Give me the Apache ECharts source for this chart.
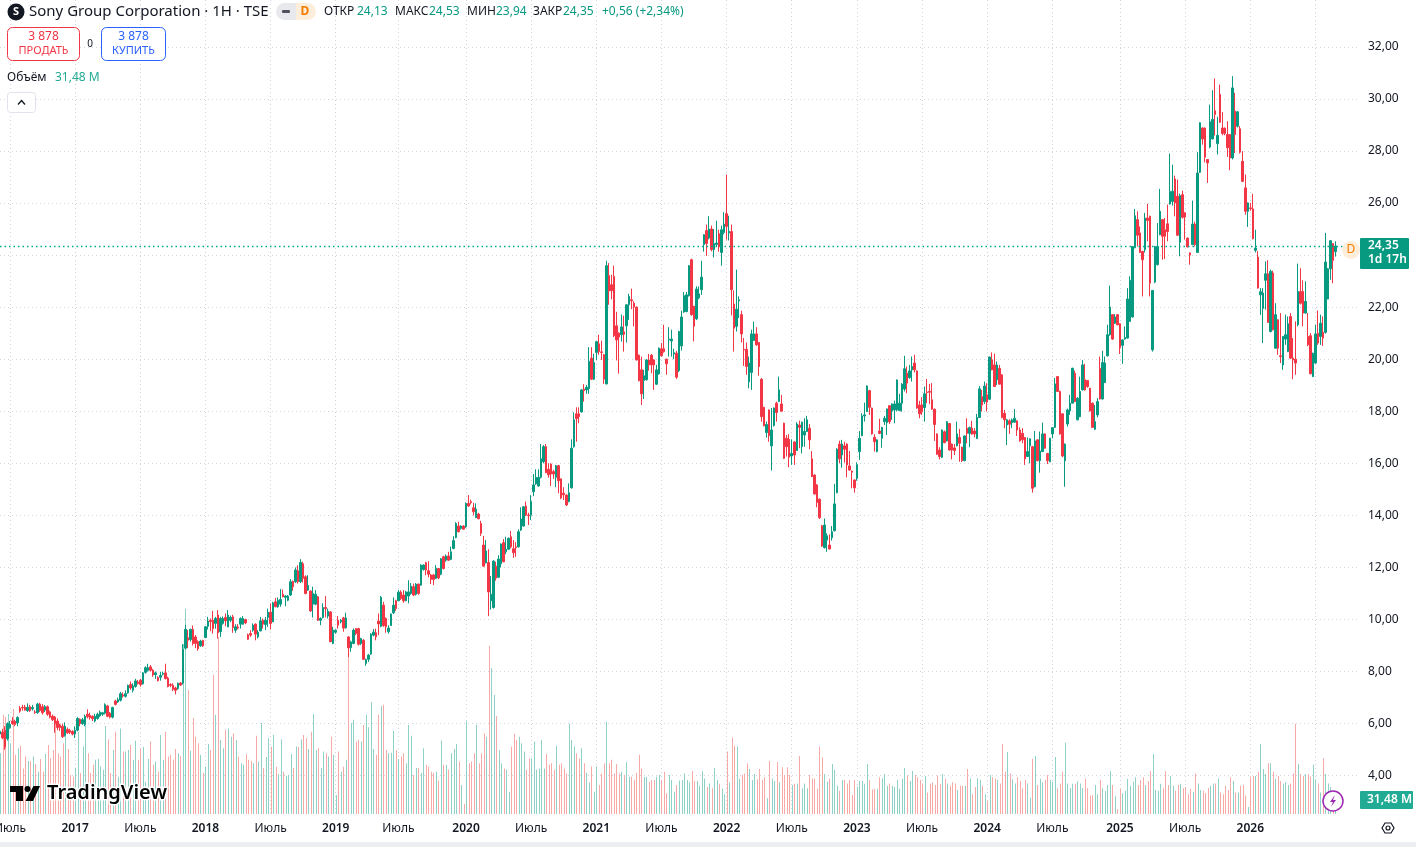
<!DOCTYPE html>
<html><head><meta charset="utf-8">
<style>html,body{margin:0;padding:0;background:#fff;overflow:hidden}#c{width:1416px;height:847px}</style>
<script src="https://cdn.jsdelivr.net/npm/echarts@6/dist/echarts.min.js"></script>
</head><body><div id="c"></div>
<script>
// Weekly bars as [open, close, high, low]
const bars2016=[[5.6,5.71,5.85,5.55],[5.67,5.45,5.8,5.4],[5.74,5.1,5.9,5.0],[5.42,6.0,6.05,5.35],[5.85,5.97,6.1,5.8],[6.1,6.0,6.25,5.95],[6.09,5.97,6.15,5.9],[6.03,6.24,6.28,5.9],[6.6,6.48,6.68,6.42],[6.62,6.6,6.72,6.5],[6.63,6.52,6.72,6.5],[6.5,6.63,6.78,6.45],[6.65,6.5,6.72,6.45],[6.57,6.62,6.72,6.5],[6.45,6.42,6.52,6.38],[6.42,6.75,6.8,6.38],[6.75,6.5,6.8,6.45],[6.65,6.42,6.75,6.35],[6.52,6.65,6.72,6.45],[6.65,6.36,6.7,6.3],[6.45,6.25,6.5,6.2],[6.28,6.15,6.35,6.1],[6.25,6.0,6.3,5.65],[6.1,5.85,6.2,5.75],[5.95,5.85,6.0,5.72],[5.9,5.5,6.0,5.45],[5.55,5.9,6.05,5.5],[5.77,5.65,5.85,5.6],[5.74,5.67,5.8,5.6],[5.7,5.6,5.75,5.55]];
const bars2017=[[5.6,5.75,5.9,5.45],[5.75,6.2,6.25,5.7],[6.17,6.0,6.2,5.9],[6.0,6.15,6.22,5.95],[5.97,6.28,6.35,5.9],[6.36,6.26,6.55,6.2],[6.32,6.23,6.42,6.15],[6.28,6.19,6.32,6.1],[6.1,6.28,6.38,6.05],[6.2,6.36,6.42,6.15],[6.3,6.44,6.5,6.25],[6.36,6.42,6.45,6.3],[6.4,6.73,6.78,6.35],[6.68,6.28,6.72,6.25],[6.4,6.25,6.45,6.2],[6.25,6.62,6.65,6.2],[6.87,6.74,6.92,6.7],[6.83,6.92,7.0,6.8],[6.9,7.15,7.22,6.85],[7.1,7.06,7.2,7.0],[7.05,7.15,7.28,7.0],[7.18,7.47,7.5,7.15],[7.5,7.37,7.62,7.3],[7.28,7.45,7.55,7.2],[7.43,7.64,7.72,7.38],[7.6,7.54,7.68,7.5],[7.67,7.5,7.72,7.42],[7.53,7.95,7.98,7.5],[7.97,8.15,8.2,7.92],[8.05,8.15,8.3,8.0],[8.18,8.05,8.25,8.0],[8.05,7.87,8.1,7.8],[7.88,7.95,8.0,7.72],[7.77,7.65,7.82,7.62],[7.78,7.85,7.98,7.65],[7.9,7.93,8.0,7.85],[7.95,7.73,8.3,7.7],[7.75,7.42,7.8,7.4],[7.5,7.47,7.55,7.4],[7.47,7.32,7.55,7.25],[7.37,7.28,7.42,7.12],[7.35,7.55,7.58,7.3],[7.56,7.48,7.6,7.45],[7.56,8.85,9.05,7.5],[8.9,9.62,9.8,8.85],[9.3,9.2,9.6,8.9],[9.23,9.62,9.65,9.15],[9.62,9.08,9.77,9.0],[9.33,9.08,9.4,8.9],[9.15,8.88,9.2,8.8],[8.99,9.17,9.22,8.95],[9.2,8.99,9.22,8.95]];
const bars2018=[[9.31,9.72,9.75,9.28],[9.74,9.94,10.1,9.62],[9.97,9.92,10.04,9.55],[9.97,9.65,10.33,9.46],[9.85,10.04,10.1,9.65],[10.17,9.49,10.36,9.27],[9.53,10.04,10.1,9.33],[9.85,10.04,10.12,9.8],[10.08,9.95,10.23,9.74],[9.72,10.17,10.36,9.7],[9.97,10.08,10.15,9.9],[10.1,9.69,10.18,9.49],[9.59,9.72,9.82,9.49],[9.71,9.67,9.82,9.62],[9.82,10.04,10.08,9.65],[9.82,10.04,10.13,9.8],[10,9.87,10.03,9.82],[9.41,9.24,9.46,9.22],[9.46,9.4,9.59,9.33],[9.59,9.78,9.85,9.53],[9.82,9.44,9.85,9.2],[9.33,9.51,9.59,9.27],[9.56,9.95,10.1,9.55],[9.97,9.82,10.04,9.65],[9.81,9.97,10.1,9.59],[10.08,10.28,10.42,9.72],[10.28,9.85,10.62,9.62],[9.91,10.64,10.68,9.9],[10.68,10.49,10.83,10.47],[10.49,10.74,10.85,10.45],[10.59,10.77,11.17,10.49],[10.97,10.87,11.15,10.85],[10.85,10.9,10.94,10.51],[10.74,10.9,10.94,10.7],[10.94,11.45,11.55,10.9],[11.46,11.26,11.5,11.1],[11.45,11.9,12,11.4],[11.87,11.45,12.08,11.38],[11.46,12.19,12.32,11.4],[12.14,11.58,12.22,11.42],[11.64,11,11.7,10.97],[11.13,11.31,11.7,11.1],[11.09,10.33,11.12,10.29],[10.59,11,11.26,10.08],[10.59,10.97,11.13,10.55],[10.87,9.97,10.9,9.95],[9.97,10.04,10.08,9.78],[10.08,10.46,10.62,10.04],[10.46,10.42,10.9,10.08],[10.13,10.32,10.42,10.04],[10.29,9.15,10.32,9.13],[9.08,9.59,9.72,9.05]];
const bars2019=[[9.51,9.59,9.62,9.45],[9.97,9.78,10.13,9.65],[9.91,9.97,10.02,9.85],[10.06,9.67,10.1,9.53],[9.68,10.06,10.26,9.65],[9.33,8.91,9.36,8.56],[8.92,9.14,9.18,8.76],[9.08,9.59,9.65,9.05],[9.65,9.46,9.67,9.4],[9.65,9.05,9.68,9.0],[9.08,9.27,9.3,9.02],[9.2,8.47,9.25,8.45],[8.31,8.46,8.5,8.22],[8.47,8.63,8.68,8.37],[8.67,9.44,9.47,8.65],[9.4,9.51,9.63,9.35],[9.49,9.33,9.65,9.2],[9.94,9.83,10.23,9.4],[9.74,10.85,10.9,9.7],[10.55,9.76,10.68,9.72],[10.04,9.72,10.08,9.49],[9.53,9.67,9.78,9.46],[9.77,10.21,10.23,9.75],[10.26,10.55,10.85,10.21],[10.72,10.42,10.76,10.33],[10.72,11.05,11.13,10.7],[11.05,10.81,11.12,10.75],[10.94,10.72,11.13,10.64],[10.72,11.06,11.1,10.7],[10.9,11.06,11.51,10.62],[11,11.28,11.4,10.95],[11.26,10.94,11.38,10.9],[10.97,11.36,11.4,10.92],[11.36,11,11.38,10.95],[11.32,12.09,12.12,11.3],[11.92,12.09,12.12,11.88],[12.18,11.9,12.22,11.7],[11.87,11.74,12.24,11.62],[11.71,11.54,11.75,11.36],[11.71,11.54,11.75,11.32],[11.58,11.96,12.09,11.55],[11.96,11.6,11.98,11.55],[11.74,12.33,12.36,11.7],[12.41,11.96,12.45,11.92],[12.28,12.44,12.5,12.22],[12.44,12.28,12.6,12.25],[12.31,12.6,12.8,12.28],[12.73,13.03,13.2,12.7],[13.15,13.69,13.74,13.12],[13.59,13.37,13.76,13.35],[13.5,13.59,13.62,13.45],[13.59,13.47,13.62,13.45]];
const bars2020=[[13.56,14.46,14.5,13.52],[14.46,14.36,14.78,14.33],[14.53,14.49,14.6,14.42],[14.29,14.14,14.48,14.0],[13.91,14.24,14.46,13.9],[14.05,13.87,14.1,13.85],[13.69,13.31,13.79,13.21],[12.86,12.05,13.21,12.03],[12.18,12.63,13.05,12.15],[12.19,11.06,12.7,10.13],[10.72,10.97,11.67,10.38],[10.46,12.24,12.28,10.42],[12.05,11.59,12.22,11.49],[11.62,12.32,12.47,11.6],[12.14,12.9,12.92,12],[12.95,12.22,13.09,12.2],[12.6,12.7,13.18,12.51],[12.7,13.12,13.15,12.68],[13.18,12.79,13.4,12.73],[12.72,12.56,13.05,12.37],[12.79,12.76,12.97,12.41],[12.79,13.37,13.46,12.77],[13.44,13.86,14.31,13.4],[13.59,14.33,14.36,13.57],[14.36,14.01,14.53,13.97],[14.01,13.99,14.1,13.63],[14.01,14.53,14.78,13.82],[14.91,15.17,15.59,14.74],[15.21,15.46,15.77,15.17],[15.13,15.46,15.77,15.1],[15.46,16.17,16.74,15.42],[16.06,16.64,16.7,16],[16.64,15.64,16.74,15.62],[15.77,15.56,16,15.45],[15.97,15.59,16,15.13],[15.68,15.59,15.75,15.4],[15.46,15.91,15.94,15.08],[15.91,15.33,15.94,14.85],[15.4,14.67,15.42,14.62],[14.85,14.79,15.08,14.59],[14.78,14.4,14.8,14.36],[14.53,14.87,15.23,14.5],[15.06,16.58,16.92,15.03],[16.64,17.67,17.96,16.6],[17.9,17.72,18.15,16.83],[17.9,17.79,18.15,17.54],[17.97,18.82,18.85,17.95],[18.85,18.79,19.04,18.37],[18.82,18.92,19.01,18.67],[18.87,19.91,20.46,18.67],[20.04,19.23,20.46,19.2],[19.23,19.87,20.21,19.2]];
const bars2021=[[20.26,20.67,20.7,19.97],[20.59,20.29,20.94,20.17],[20.28,20.26,20.71,19.97],[20.17,19.23,20.2,19.05],[19.05,23.59,23.78,19.03],[23.21,22.62,23.69,22.09],[22.86,22.63,23.24,22.3],[23.18,20.9,23.59,20.85],[21.28,20.74,21.82,19.95],[21,20.85,21.03,19.44],[20.94,21.24,21.71,20.68],[21.05,20.96,21.67,20.29],[21.28,22.09,22.1,20.64],[22.09,22.41,22.51,21.51],[22.28,22.24,22.71,21.92],[22.15,22,22.22,21.26],[22,19.97,22.02,19.95],[20.15,19.17,20.18,19.15],[19.59,18.67,20.1,18.24],[19.18,19.36,19.59,18.47],[19.21,19.97,20,19.18],[19.97,19.78,20.2,19.56],[20.15,19.78,20.2,19.46],[19.97,19.78,20,18.82],[19.04,19.59,19.78,19.01],[19.44,20.42,20.45,19.4],[20.4,20.13,20.62,20.1],[20.4,20.29,21.32,20.25],[20,19.82,20.02,19.4],[20.74,20.77,21.23,20.1],[20.7,20.77,21.13,20.1],[20.2,20.25,20.4,20.0],[20.23,19.31,20.32,19.24],[19.56,21.06,21.09,19.5],[20.51,21.62,21.86,20.33],[21.81,22.44,22.58,21.78],[21.83,22.47,22.58,21.8],[22.44,23.59,23.62,22.4],[23.82,21.71,23.86,21.67],[22.03,21.26,22.05,20.68],[21.55,22.69,22.8,21.5],[22.36,22.51,22.79,22.3],[22.67,23.15,23.78,22.47],[24.4,24.78,24.8,24.13],[24.94,24.44,25.17,23.97],[24.65,25,25.49,24.6],[25,24.21,25.13,24.14],[24.21,24.44,25,23.91],[24.4,24.46,25.32,24.35],[24.82,24.31,24.97,24.13],[24.1,24.97,25.13,23.59],[24.87,25.19,25.65,24.8]];
const bars2022=[[25.59,25.1,27.09,24.59],[24.85,24.91,25.51,24.56],[24.9,22.67,25.17,21.68],[22.12,21.19,22.64,20.29],[21.26,21.92,23.44,21.06],[22.24,22.28,22.41,21.58],[21.71,20.97,21.86,20.64],[20.38,20.36,20.81,19.74],[20.38,19.72,20.64,19.4],[19.13,19.85,20.1,18.88],[19.49,20.97,21.13,18.82],[20.72,20.97,21.44,20.7],[20.97,20.55,21.23,20.51],[20.64,19.72,20.66,19.36],[19.23,17.79,19.27,17.6],[18.15,17.44,18.17,17.42],[17.18,17.49,17.6,16.99],[18.05,17.06,18.07,16.83],[16.67,17.28,18.12,15.72],[17.45,18.12,18.15,17.41],[18.31,17.95,18.37,17.6],[18.37,18.82,19.33,18.35],[18.28,18,18.63,18],[17.54,16.19,17.56,16.17],[16.96,16.64,17.09,16.26],[16.92,16.23,17.12,15.85],[16.28,16.38,16.92,15.94],[16.82,16.32,16.85,15.94],[16.49,17.51,17.58,16.47],[17.47,17.38,17.64,16.58],[16.64,17.58,17.6,16.38],[17.09,17.22,17.73,16.64],[17.22,17.67,17.82,17.2],[17.35,16.9,17.51,16.54],[16.17,15.49,16.47,15.47],[15.55,14.82,15.57,14.8],[15.17,14.49,15.2,14.31],[14.62,13.91,14.65,13.86],[13.6,12.82,13.63,12.79],[12.76,13.63,13.88,12.73],[13.05,13.22,13.31,12.6],[12.86,12.71,13.27,12.69],[13.14,13.37,13.59,13.03],[13.41,14.44,15.21,13.38],[14.87,16.54,16.58,14.85],[16.74,16.17,16.87,16],[16.32,16.74,16.9,15.83],[16.67,16.54,16.83,16.03],[16.74,15.94,16.77,15.46],[15.9,15.74,16.47,15.72],[15.7,15.66,15.72,15.04],[15.36,15.06,15.38,14.87]];
const bars2023=[[15.42,15.94,16.04,15.33],[16.45,16.96,17.24,16.13],[17.06,17.82,17.92,17.04],[17.82,17.86,18.33,17.6],[17.99,18.97,18.99,17.97],[18.79,18.15,18.82,17.86],[18.12,17.13,18.14,17.1],[17,16.83,17.12,16.45],[16.45,16.9,16.92,16.42],[17.24,17.15,17.71,17.12],[16.96,17.38,17.4,16.6],[17.6,17.73,17.82,17.47],[17.56,18.09,18.1,17.09],[18.21,17.6,18.24,17.51],[18.01,18.28,18.3,17.67],[18.05,18.28,18.41,17.54],[18.05,19.2,19.22,18],[18.03,18.31,18.67,18],[18.31,19.04,19.08,17.98],[18.85,19.63,20.13,18.76],[19.46,19.08,19.72,18.69],[19.29,19.55,19.78,19.25],[19.59,19.72,20.1,19.14],[19.85,19.59,20.17,19.49],[19.55,18.12,19.57,18.1],[18.24,17.9,18.4,17.73],[18.24,17.99,18.54,17.86],[18.14,18.67,18.95,17.6],[18.74,18.72,19.24,18.31],[18.76,18.73,19.05,18.28],[18.44,18.08,19.08,18.05],[18.08,17.49,18.1,16.86],[17.13,16.35,17.15,16.32],[16.51,16.26,16.62,16.15],[16.23,17.28,17.3,16.2],[17.21,16.79,17.26,16.77],[16.86,17.6,17.62,16.84],[17.53,16.51,17.54,16.49],[16.74,16.51,16.76,16.15],[16.59,16.49,16.74,16.32],[16.67,17.13,17.6,16.65],[16.99,16.77,17.32,16.06],[16.62,16.1,16.64,16.05],[16.1,17.05,17.07,16.08],[17.35,17.15,17.73,16.77],[17.15,17.37,17.41,16.62],[17.35,17.12,17.63,17.1],[17.24,17.13,17.35,17],[16.95,17.76,17.9,16.93],[17.76,18.86,18.97,17.74],[18.56,18.24,18.82,17.99],[18.37,18.97,19.14,18.28]];
const bars2024=[[18.63,18.35,19.08,17.99],[18.46,20.08,20.1,18.44],[19.97,19.59,20.26,19.57],[19.78,18.95,20.21,18.93],[19.21,19.78,19.91,19.01],[19.65,19.04,19.78,19.02],[19.4,17.76,19.42,17.73],[17.92,17.67,18.05,17.35],[17.47,17.67,17.7,16.7],[17.63,17.5,17.69,17.13],[17.56,17.67,17.72,17.35],[17.58,17.73,18.08,17.55],[17.63,17.28,17.65,17.05],[17.28,16.86,17.38,16.83],[17.15,16.9,17.35,16.77],[16.99,16.17,17.01,15.94],[16.26,16.45,16.99,16.24],[16.67,16.94,16.96,16],[16.64,15.04,16.66,14.87],[15.1,16.86,17.24,15.08],[16.9,16.1,16.92,16.08],[16.1,16.47,17.22,15.64],[16.45,17.13,17.56,16.43],[17.13,16.58,17.15,16.56],[16.38,16.1,16.4,15.97],[16.06,16.96,16.98,16.04],[17.13,17.37,17.39,16.96],[17.38,19.05,19.28,17.36],[19.33,18.76,19.35,18.74],[18.76,17.13,18.79,17.1],[17.9,16.28,17.92,16.23],[16.1,16.74,16.76,15.1],[17.51,18.05,18.1,17.41],[18.01,18.31,18.63,17.86],[18.31,19.65,19.67,18.3],[19.46,18.37,19.56,18.35],[17.67,18.5,18.54,17.65],[17.79,18.76,19.33,17.77],[18.82,19.78,19.97,18.8],[19.21,18.82,19.82,18.79],[19.18,18.95,19.2,18.9],[18.88,18.01,18.9,17.99],[18.31,17.38,18.33,17.36],[17.31,17.6,18.24,17.28],[17.86,18.37,18.5,17.77],[19.65,18.47,20.1,18.45],[18.47,19.87,20.32,18.45],[19.1,19.85,20.1,19.08],[20.13,20.94,21.32,20.1],[20.94,22,22.82,20.9],[21.71,20.77,21.73,20.74],[21.38,21.62,21.73,21.35],[21.71,21.32,21.73,21.3]];
const bars2025=[[21.36,20.45,21.38,20.2],[20.53,20.74,20.76,19.82],[20.77,20.83,21.26,20.75],[20.81,22.31,22.73,20.79],[21.45,23.03,23.18,21.43],[21.62,24.33,24.35,21.6],[24.28,25.51,25.77,24.26],[25.36,24.76,25.68,24.33],[24.85,24.1,25.1,24.08],[24.14,23.82,24.16,22.41],[24.2,25.42,25.62,24.1],[25.42,25.33,25.97,24.53],[25.49,22.92,25.51,22.41],[20.36,22.64,22.66,20.29],[22.96,24.33,24.35,22.92],[23.63,24.33,25.23,23.6],[24.78,25.68,26.54,24.76],[25.36,24.72,25.38,23.82],[24.97,24.72,25.42,23.85],[25.2,24.9,25.94,24.53],[25.96,26.44,27.9,25.94],[26.06,26.45,27.47,25.9],[26.92,26,27.05,25.49],[26.26,24.76,26.9,24.74],[24.49,26.28,26.36,23.95],[26.32,25.45,26.47,25.4],[25.62,25.46,25.64,24.59],[24.65,24.31,24.67,24.3],[24.08,24,24.1,23.63],[24.4,25.19,26.09,24.38],[25.19,24.4,25.28,24.33],[24.1,27.15,27.95,24.08],[27.18,29.08,29.1,27.15],[28.88,28.46,28.9,28.24],[28.88,27.76,28.9,27.56],[27.67,27.54,27.69,26.77],[28.15,29.12,29.78,28.1],[28.46,29.21,30.33,28.44],[29.54,29.4,30.78,28.59],[28.28,28.6,29.31,27.86],[30.17,29.1,30.55,29.08],[28.88,28.67,29.49,28.6],[28.88,28.67,28.9,28.6],[28.63,28.12,29.14,27.77],[28.63,27.73,28.65,27.26],[27.73,30.42,30.87,27.67],[29.53,28.63,30.23,27.92],[28.95,29.5,29.52,28.9],[28.85,27.95,28.95,27.9],[27.6,26.83,27.99,26.8],[26.58,25.68,27.09,25.55],[25.68,26,26.02,25.08]];
const bars2026=[[25.81,25.78,26,25.7],[25.77,24.63,26.35,24.6],[24.18,24.27,24.97,24.1],[23.92,22.73,24.15,22.71],[22.47,22.59,22.73,21.7],[21.95,22.54,22.73,20.62],[23.03,23.28,23.76,21.9],[23.28,21.41,23.8,21.39],[21.06,23.37,23.44,21.03],[23.31,21.13,23.4,21.1],[20.42,21.71,22.15,20.4],[21.51,20.42,21.53,20.17],[20.13,20.1,21.77,19.85],[19.78,20.87,20.89,19.59],[20.77,20.94,21.71,20.55],[20.29,21.36,21.64,20.27],[21.64,20.04,21.77,20],[20.04,19.97,20.81,19.23],[20,19.85,21.45,19.4],[21.32,22.6,23.67,21.26],[22.6,22.15,23.49,22.1],[22.6,21.77,23.03,21.26],[21.77,22.22,22.99,21.75],[20.87,20.55,21.77,20.5],[20.9,19.44,21,19.42],[19.33,20.23,20.25,19.31],[19.85,20.97,21.32,19.83],[21,20.62,21.87,20.55],[20.87,21.38,21.71,20.55],[21.03,20.81,21.64,20.51],[21.03,23.73,24.85,20.98],[22.31,23.47,23.5,22.3],[23.47,24.55,24.57,23.05],[24.44,23.79,24.46,22.92],[24.13,24.35,24.53,23.94]];
// Weekly volume in millions
const vol2016=[147,240,235,242,171,254,143,159,165,110,139,128,127,139,121,102,133,102,145,167,135,155,235,147,139,171,203,157,94,90];
const vol2017=[112,199,99,163,223,147,99,119,131,133,115,107,213,181,99,155,199,90,207,151,151,155,167,131,177,131,159,162,78,133,175,119,127,102,191,131,199,139,143,131,157,147,140,411,496,300,153,232,187,171,143,99];
const vol2018=[115,169,155,336,240,428,179,159,203,207,187,195,179,139,123,119,145,131,128,123,189,127,220,111,138,183,163,191,114,96,181,102,92,94,145,111,163,162,181,191,183,157,199,242,155,159,111,151,147,139,187,143];
const vol2019=[46,151,102,114,131,405,220,228,175,179,175,215,240,210,271,157,143,240,261,264,155,147,148,201,155,133,139,147,123,215,189,94,111,111,99,159,119,114,102,99,102,81,177,119,119,107,147,157,169,127,70,24];
const vol2020=[224,123,127,147,215,123,147,195,187,407,353,288,237,155,123,110,107,54,163,194,179,187,171,151,107,135,135,175,107,110,179,110,145,119,123,107,165,119,123,110,98,218,179,163,147,135,159,123,100,76,115,54];
const vol2021=[115,70,98,123,223,123,131,98,121,98,102,94,125,90,90,82,100,143,110,90,90,78,82,82,90,94,82,102,50,94,82,54,70,81,82,98,82,77,104,80,80,68,104,86,65,74,62,111,82,73,61,48];
const vol2022=[151,77,185,165,163,85,94,98,123,109,82,97,84,109,82,89,38,128,86,80,126,77,113,94,113,94,70,73,74,140,62,74,62,94,85,85,61,163,137,97,78,85,121,107,68,56,82,82,74,82,46,82];
const vol2023=[65,80,80,73,121,82,60,61,61,89,86,97,68,74,68,65,82,61,85,111,93,80,104,94,89,82,74,92,52,73,77,70,93,73,97,85,74,68,77,74,58,68,68,68,109,85,48,65,86,82,68,48];
const vol2024=[31,94,89,86,82,74,169,102,150,98,84,74,89,80,62,82,74,40,133,140,70,85,77,82,94,82,78,138,62,74,102,172,74,63,73,73,79,74,63,85,62,44,46,70,48,82,62,56,70,104,70,44,12];
const vol2025=[61,50,56,85,68,78,89,70,82,89,70,80,104,145,58,56,73,62,104,70,92,68,56,70,73,62,65,48,61,54,98,74,58,56,51,63,68,74,74,85,52,48,68,58,89,80,52,52,68,70,45,17];
const vol2026=[89,92,92,102,169,109,97,123,123,102,85,92,80,73,77,70,74,98,218,121,97,92,97,97,90,119,84,74,52,135,97,74,65,50,31.48];
// Axis labels and the weeks they sit on
const timeLabels=['Июль','2017','Июль','2018','Июль','2019','Июль','2020','Июль','2021','Июль','2022','Июль','2023','Июль','2024','Июль','2025','Июль','2026','Июль'];
const timeLabelWeeks=[4,30,56,82,108,134,159,186,212,238,264,290,316,342,368,394,420,447,473,499,525];
const lastPrice=24.35;

const allBars=[].concat(bars2016,bars2017,bars2018,bars2019,bars2020,bars2021,bars2022,bars2023,bars2024,bars2025,bars2026);
const allVol=[].concat(vol2016,vol2017,vol2018,vol2019,vol2020,vol2021,vol2022,vol2023,vol2024,vol2025,vol2026);
const SLOTS=543;
const cats=[];for(let i=0;i<SLOTS;i++){const k=timeLabelWeeks.indexOf(i);cats.push(k>=0?timeLabels[k]:'');}
const UP='#089981',DOWN='#f23645';
const FONT='"Noto Sans",Roboto,sans-serif';
const candle=allBars.map(b=>[b[0],b[1],b[3],b[2]]);
const volume=allVol.map((v,i)=>[i,v,allBars[i][1]>=allBars[i][0]?1:0]);
const gridLine={show:true,lineStyle:{color:'#d1d4dc',type:[1,3],width:1}};
const onLabel=(i,name)=>name!=='';
const txt=(x,y,text,fill,size,extra)=>({type:'text',x,y:y+2,z:50,style:Object.assign({text,fill,font:(size||12)+'px '+FONT,textVerticalAlign:'middle'},extra||{})});

const chart=echarts.init(document.getElementById('c'),null,{renderer:'canvas'});
chart.setOption({
 animation:false,backgroundColor:'#fff',
 grid:[{left:0,right:58,top:-5.3,height:781,outerBoundsMode:'none'},{left:0,right:58,top:0,height:814,outerBoundsMode:'none'}],
 xAxis:[
  {type:'category',gridIndex:0,data:cats,boundaryGap:false,show:false},
  {type:'category',gridIndex:1,data:cats,boundaryGap:false,axisLine:{show:false},axisTick:{show:false},
   splitLine:Object.assign({interval:onLabel},gridLine),
   axisLabel:{interval:onLabel,hideOverlap:false,showMinLabel:true,showMaxLabel:false,color:'#131722',fontFamily:FONT,fontSize:12,margin:9,
     formatter:n=>/\d/.test(n)?'{y|'+n+'}':n,rich:{y:{fontWeight:600,fontSize:12,color:'#131722',fontFamily:FONT}}}}
 ],
 yAxis:[
  {type:'value',gridIndex:0,position:'right',min:4,max:34,interval:2,axisLine:{show:false},axisTick:{show:false},
   splitLine:gridLine,
   axisLabel:{margin:10,color:'#131722',fontFamily:FONT,fontSize:12,showMaxLabel:false,formatter:v=>v.toFixed(2).replace('.',',')}},
  {type:'value',gridIndex:1,min:0,max:1968,show:false,splitLine:{show:false}}
 ],
 series:[
  {type:'custom',xAxisIndex:1,yAxisIndex:1,data:volume,z:1,silent:true,encode:{x:0,y:1},clip:false,
   renderItem:(p,api)=>{
     const a=api.coord([api.value(0),0]),b=api.coord([api.value(0),api.value(1)]);
     return {type:'rect',shape:{x:Math.round(a[0]),y:b[1],width:1,height:a[1]-b[1]},
       style:{fill:api.value(2)?'#8ed2c7':'#f7a9a7'}};
   }},
  {type:'candlestick',xAxisIndex:0,yAxisIndex:0,data:candle,barWidth:2,z:3,clip:false,
   itemStyle:{color:UP,color0:DOWN,borderColor:UP,borderColor0:DOWN,borderWidth:1},
   markLine:{silent:true,symbol:'none',label:{show:false},lineStyle:{color:'#00a98e',type:[1.5,3],width:1.4},data:[{yAxis:lastPrice}]}}
 ],
 graphic:[
  {type:'circle',z:50,shape:{cx:16,cy:12,r:8.5},style:{fill:'#131722'}},
  txt(16,10,'S','#fff',11,{textAlign:'center',font:'bold 11px '+FONT}),
  txt(29,10,'Sony Group Corporation · 1H · TSE','#131722',15),
  {type:'rect',z:50,shape:{x:276,y:3,width:20,height:17,r:[8.5,0,0,8.5]},style:{fill:'#e8e9ec'}},
  {type:'rect',z:50,shape:{x:296,y:3,width:20,height:17,r:[0,8.5,8.5,0]},style:{fill:'#fdeedb'}},
  {type:'rect',z:51,shape:{x:282,y:10,width:8,height:3,r:1},style:{fill:'#50535e'}},
  txt(305,10,'D','#f57c00',12,{textAlign:'center',font:'bold 12px '+FONT}),
  txt(324,10,'ОТКР','#131722',12),txt(357,10,'24,13',UP,12),
  txt(395,10,'МАКС','#131722',12),txt(429,10,'24,53',UP,12),
  txt(467,10,'МИН','#131722',12),txt(496,10,'23,94',UP,12),
  txt(533,10,'ЗАКР','#131722',12),txt(563,10,'24,35',UP,12),
  txt(602,10,'+0,56 (+2,34%)',UP,12),
  {type:'rect',z:50,shape:{x:7.5,y:27.5,width:72,height:33,r:5},style:{fill:'#fff',stroke:DOWN,lineWidth:1}},
  txt(43.5,35,'3 878',DOWN,12,{textAlign:'center'}),txt(43.5,49,'ПРОДАТЬ',DOWN,11,{textAlign:'center'}),
  txt(90,42,'0','#131722',10,{textAlign:'center'}),
  {type:'rect',z:50,shape:{x:101.5,y:27.5,width:64,height:33,r:5},style:{fill:'#fff',stroke:'#2962ff',lineWidth:1}},
  txt(133.5,35,'3 878','#2962ff',12,{textAlign:'center'}),txt(133.5,49,'КУПИТЬ','#2962ff',11,{textAlign:'center'}),
  txt(7,76,'Объём','#131722',12),txt(55,76,'31,48 M','#22ab94',12),
  {type:'rect',z:50,shape:{x:7.5,y:92.5,width:28,height:20,r:3},style:{fill:'#fff',stroke:'#e0e3eb',lineWidth:1}},
  {type:'polyline',z:51,shape:{points:[[18,104.5],[21.5,100.5],[25,104.5]]},style:{stroke:'#131722',lineWidth:1.3,fill:'none'}},
  {type:'rect',z:50,shape:{x:1360,y:238,width:49,height:31,r:1},style:{fill:UP}},
  txt(1368,244,'24,35','#fff',12,{font:'600 12px '+FONT}),txt(1368,258,'1d 17h','#fff',12,{font:'600 12px '+FONT}),
  {type:'circle',z:50,shape:{cx:1351,cy:250,r:9},style:{fill:'#fdeedb'}},
  txt(1351,248,'D','#f57c00',12,{textAlign:'center'}),
  {type:'rect',z:50,shape:{x:1360,y:791,width:53,height:18,r:1},style:{fill:'#22ab94'}},
  txt(1367,798,'31,48 M','#fff',12,{font:'600 12px '+FONT}),
  {type:'circle',z:50,shape:{cx:1333,cy:801,r:10},style:{fill:'#fff',stroke:'#9c27b0',lineWidth:1.5}},
  {type:'polygon',z:51,shape:{points:[[1335,795],[1330,802],[1333,802],[1331,807],[1336,800],[1333,800]]},style:{fill:'#9c27b0'}},
  {type:'polygon',z:50,shape:{points:[[1382,828],[1385,823],[1391,823],[1394,828],[1391,833],[1385,833]]},style:{fill:'none',stroke:'#131722',lineWidth:1.2}},
  {type:'circle',z:50,shape:{cx:1388,cy:828,r:2},style:{fill:'none',stroke:'#131722',lineWidth:1.2}},
  {type:'rect',z:40,shape:{x:0,y:842,width:1416,height:5},style:{fill:'#eceef2'}},
  {type:'polygon',z:50,shape:{points:[[10,786],[23,786],[23,801],[16,801],[16,792],[10,792]]},style:{fill:'#000'}},
  {type:'circle',z:50,shape:{cx:27.5,cy:789,r:3},style:{fill:'#000'}},
  {type:'polygon',z:50,shape:{points:[[33.5,786],[40,786],[33,801],[25.5,801]]},style:{fill:'#000'}},
  txt(47,791,'TradingView','#000',20,{font:'600 20px '+FONT,stroke:'#fff',lineWidth:3})
 ]
});
</script></body></html>
